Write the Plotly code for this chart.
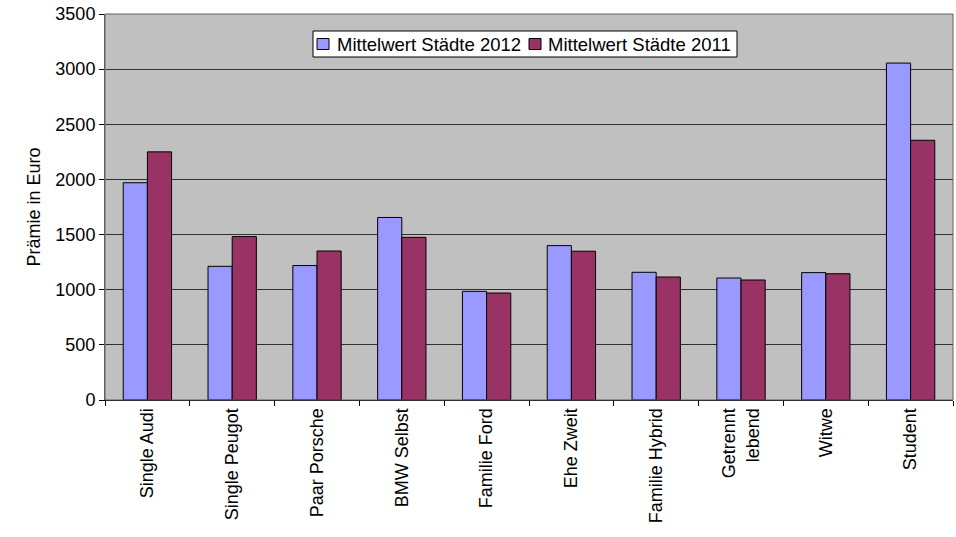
import plotly.graph_objects as go

categories = ["Single Audi", "Single Peugot", "Paar Porsche", "BMW Selbst", "Familie Ford",
              "Ehe Zweit", "Familie Hybrid", "Getrennt<br>lebend", "Witwe", "Student"]
werte_2012 = [1970, 1212, 1219, 1655, 985, 1400, 1158, 1106, 1155, 3055]
werte_2011 = [2250, 1482, 1351, 1475, 970, 1349, 1115, 1088, 1145, 2355]
series_names = ["Mittelwert Städte 2012", "Mittelwert Städte 2011"]
series_colors = ["#9999FF", "#993366"]
y_ticks = [0, 500, 1000, 1500, 2000, 2500, 3000, 3500]

FONT = "Liberation Sans, Arial, sans-serif"
W, H = 956, 537
L, R, T, B = 105, 3, 14, 137
PW, PH = W - L - R, H - T - B

def px(x):  # page pixel -> paper x
    return (x - L) / PW

def py(y):  # page pixel -> paper y
    return (H - B - y) / PH

fig = go.Figure()
for vals, name, col in zip([werte_2012, werte_2011], series_names, series_colors):
    fig.add_trace(go.Bar(x=categories, y=vals, name=name, showlegend=False,
                         marker=dict(color=col, line=dict(color="#000000", width=1))))

fig.update_layout(
    width=W, height=H,
    margin=dict(l=L, r=R, t=T, b=B),
    paper_bgcolor="white", plot_bgcolor="#C0C0C0",
    barmode="group", bargap=0.43, bargroupgap=0,
    font=dict(family=FONT, size=18, color="black"),
    xaxis=dict(tickangle=-90, ticks="outside", tickson="boundaries", ticklen=5,
               tickcolor="#000000", showline=True, linecolor="#000000", linewidth=1,
               showgrid=False, tickfont=dict(size=18, family=FONT)),
    yaxis=dict(range=[0, 3500], tickvals=y_ticks, ticks="outside", ticklen=5,
               tickcolor="#000000", showline=True, linecolor="#606060", linewidth=1,
               showgrid=True, gridcolor="#303030", gridwidth=1, zeroline=False,
               title=dict(text="Prämie in Euro", font=dict(size=18, family=FONT), standoff=10),
               tickfont=dict(size=18, family=FONT)),
)
# plot frame
fig.add_shape(type="rect", xref="paper", yref="paper", x0=0, x1=1, y0=0, y1=1,
              line=dict(color="#606060", width=1), layer="above")

# legend box (manual, to match the small square keys)
fig.add_shape(type="rect", xref="paper", yref="paper",
              x0=px(313), x1=px(737), y0=py(57), y1=py(31),
              line=dict(color="#000000", width=1), fillcolor="white", layer="above")
key_x = [317, 529]
text_x = [335, 546]
for kx, tx, name, col in zip(key_x, text_x, series_names, series_colors):
    fig.add_shape(type="rect", xref="paper", yref="paper",
                  x0=px(kx), x1=px(kx + 12), y0=py(49.5), y1=py(38.5),
                  line=dict(color="#000000", width=1), fillcolor=col, layer="above")
    fig.add_annotation(xref="paper", yref="paper", x=px(tx), y=py(44),
                       text=name, showarrow=False, xanchor="left", yanchor="middle",
                       font=dict(size=18.5, family=FONT, color="black"))

fig.write_html("out.html", config={"displayModeBar": False},
               post_script="document.body.style.margin='0';document.body.style.overflow='hidden';")
